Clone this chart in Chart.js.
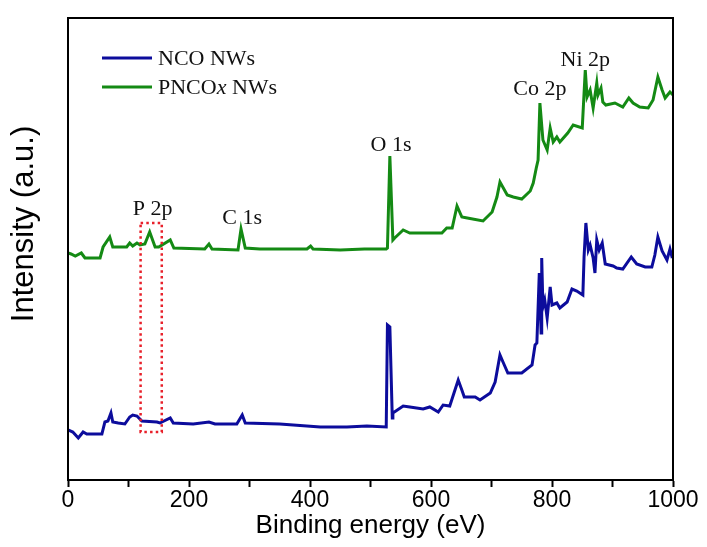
<!DOCTYPE html>
<html>
<head>
<meta charset="utf-8">
<script src="https://cdn.jsdelivr.net/npm/chart.js@4.4.1/dist/chart.umd.min.js"></script>
<style>
  html, body { margin: 0; padding: 0; background: #fff; }
  #wrap { width: 707px; height: 547px; position: relative; }
</style>
</head>
<body>
<div id="wrap"><canvas id="xpsChart"></canvas></div>
<script>
// survey spectra, binding energy (eV) vs intensity (a.u., offset)
const ncoEnergy = [0, 8, 17, 25, 31, 56, 61, 66, 71, 74, 83, 94, 102, 107, 114, 122, 147, 152, 169, 174, 207, 233, 243, 279, 288, 293, 350, 417, 461, 494, 526,
  527, 528, 532, 536, 537, 554, 565, 587, 598, 612, 620, 631, 638, 645, 651, 655, 673, 681, 698, 706, 714, 719, 727, 750, 767, 772, 775, 779, 782, 783, 785, 788,
  792, 797, 800, 808, 813, 825, 833, 841, 851, 853, 856, 860, 863, 868, 871, 874, 878, 883, 888, 901, 907, 917, 931, 940, 954, 965, 970, 975, 982, 990, 995, 998, 1000];
const ncoIntensity = [50, 48, 42, 48, 46, 46, 58, 59, 67, 58, 57, 56, 63, 65, 64, 59, 58, 57, 62, 57, 56, 58, 56, 56, 65, 57, 56, 53, 53, 54, 53,
  53, 155, 153, 62, 67, 74, 73, 71, 73, 68, 75, 74, 87, 100, 90, 83, 83, 80, 87, 98, 125, 118, 107, 107, 115, 135, 137, 207, 147, 222, 173, 180,
  162, 193, 175, 177, 172, 178, 191, 189, 185, 223, 257, 230, 235, 222, 207, 240, 230, 237, 216, 214, 212, 211, 223, 216, 213, 213, 225, 243, 229, 220, 231, 224, 225];

const pncoEnergy = [0, 5, 12, 22, 28, 53, 58, 69, 74, 97, 102, 107, 114, 119, 127, 135, 144, 150, 169, 175, 226, 233, 238, 281, 286, 293, 317, 395, 401, 405, 450, 490, 526,
  528, 532, 537, 540, 554, 565, 598, 618, 626, 635, 643, 651, 660, 686, 701, 709, 714, 726, 736, 750, 764, 769, 774, 777, 780, 785, 792, 797, 802, 808, 813,
  826, 835, 850, 855, 858, 863, 868, 874, 876, 881, 884, 889, 904, 917, 927, 934, 945, 959, 967, 975, 982, 987, 995, 1000];
const pncoIntensity = [227, 226, 224, 227, 222, 222, 233, 243, 233, 233, 237, 234, 237, 235, 236, 248, 233, 233, 240, 232, 231, 236, 231, 230, 251, 232, 231, 231, 234, 231, 230, 231, 231,
  232, 324, 240, 242, 250, 247, 247, 247, 252, 252, 274, 263, 262, 259, 268, 283, 298, 285, 283, 281, 289, 297, 312, 320, 377, 340, 330, 352, 338, 343, 338,
  347, 355, 352, 410, 383, 390, 372, 397, 385, 392, 378, 375, 377, 373, 382, 377, 373, 372, 380, 403, 390, 382, 388, 385];

const xTicks = [0, 200, 400, 600, 800, 1000];

// peak assignments: label text, centre energy, baseline intensity
const peakLabels = ["P 2p", "C 1s", "O 1s", "Co 2p", "Ni 2p"];
const peakEnergy = [140, 288, 534, 780, 855];
const peakLevel = [265, 256, 329, 385, 414];

// dotted box around the P 2p region
const boxEnergy = [120, 155];
const boxLevel = [48, 257];

const NAVY = "#0c0c9c";
const GREEN = "#148a14";
const SERIF = '"Liberation Serif", "Times New Roman", serif';
const SANS = '"Liberation Sans", Arial, sans-serif';

function toPoints(xs, ys) {
  return xs.map((x, i) => ({ x: x, y: ys[i] }));
}

const annotationPlugin = {
  id: "peakNotes",
  afterDatasetsDraw(chart) {
    const ctx = chart.ctx;
    const xs = chart.scales.x;
    const ys = chart.scales.y;

    ctx.save();
    ctx.fillStyle = "#111";
    ctx.font = "22px " + SERIF;
    ctx.textAlign = "center";
    ctx.textBaseline = "alphabetic";
    peakLabels.forEach((txt, i) => {
      ctx.fillText(txt, xs.getPixelForValue(peakEnergy[i]), ys.getPixelForValue(peakLevel[i]));
    });

    const x0 = xs.getPixelForValue(boxEnergy[0]);
    const x1 = xs.getPixelForValue(boxEnergy[1]);
    const y0 = ys.getPixelForValue(boxLevel[1]);
    const y1 = ys.getPixelForValue(boxLevel[0]);
    ctx.strokeStyle = "#e8202a";
    ctx.lineWidth = 2.5;
    ctx.setLineDash([2.5, 3.2]);
    ctx.strokeRect(x0, y0, x1 - x0, y1 - y0);
    ctx.restore();
  },
  afterDraw(chart) {
    const ctx = chart.ctx;
    const a = chart.chartArea;
    ctx.save();
    // frame
    ctx.strokeStyle = "#000";
    ctx.lineWidth = 2;
    ctx.strokeRect(a.left, a.top, a.right - a.left, a.bottom - a.top);

    // y axis title
    ctx.save();
    ctx.translate(24, 224);
    ctx.rotate(-Math.PI / 2);
    ctx.fillStyle = "#000";
    ctx.font = "31px " + SANS;
    ctx.textAlign = "center";
    ctx.textBaseline = "middle";
    ctx.fillText("Intensity (a.u.)", 0, 0);
    ctx.restore();

    // legend
    const rows = [
      { color: NAVY, parts: [["NCO NWs", ""]] },
      { color: GREEN, parts: [["PNCO", ""], ["x", "italic "], [" NWs", ""]] }
    ];
    rows.forEach((row, r) => {
      const y = 58 + r * 29;
      ctx.strokeStyle = row.color;
      ctx.lineWidth = 3;
      ctx.beginPath();
      ctx.moveTo(102, y);
      ctx.lineTo(152, y);
      ctx.stroke();
      let x = 158;
      ctx.fillStyle = "#111";
      ctx.textBaseline = "alphabetic";
      ctx.textAlign = "left";
      row.parts.forEach(([txt, style]) => {
        ctx.font = style + "22px " + SERIF;
        ctx.fillText(txt, x, y + 7);
        x += ctx.measureText(txt).width;
      });
    });
    ctx.restore();
  }
};

new Chart(document.getElementById("xpsChart"), {
  type: "line",
  data: {
    datasets: [
      {
        label: "NCO NWs",
        data: toPoints(ncoEnergy, ncoIntensity),
        borderColor: NAVY,
        borderWidth: 3,
        pointRadius: 0,
        tension: 0
      },
      {
        label: "PNCOx NWs",
        data: toPoints(pncoEnergy, pncoIntensity),
        borderColor: GREEN,
        borderWidth: 3,
        pointRadius: 0,
        tension: 0
      }
    ]
  },
  options: {
    responsive: true,
    maintainAspectRatio: false,
    animation: false,
    layout: { padding: { top: 18, right: 34, left: 0, bottom: 0 } },
    plugins: {
      legend: { display: false },
      tooltip: { enabled: false }
    },
    scales: {
      x: {
        type: "linear",
        min: 0,
        max: 1000,
        afterBuildTicks: (scale) => {
          scale.ticks = [];
          for (let v = 0; v <= 1000; v += 100) scale.ticks.push({ value: v });
        },
        afterFit: (scale) => { scale.height = 67; },
        ticks: {
          color: "#000",
          font: { family: SANS, size: 23 },
          padding: 0,
          maxRotation: 0,
          autoSkip: false,
          callback: (v) => (xTicks.includes(v) ? String(v) : "")
        },
        grid: {
          drawOnChartArea: false,
          drawTicks: true,
          tickLength: 7,
          tickWidth: 2,
          color: "#000"
        },
        border: { display: true, color: "#000", width: 2 },
        title: {
          display: true,
          text: "Binding energy (eV)",
          color: "#000",
          font: { family: SANS, size: 26 },
          padding: { top: 0, bottom: 6 }
        }
      },
      y: {
        min: 0,
        max: 462,
        afterFit: (scale) => { scale.width = 68; },
        ticks: { display: false },
        grid: { display: false },
        border: { display: true, color: "#000", width: 2 },
        title: { display: false }
      }
    }
  },
  plugins: [annotationPlugin]
});
</script>
</body>
</html>
